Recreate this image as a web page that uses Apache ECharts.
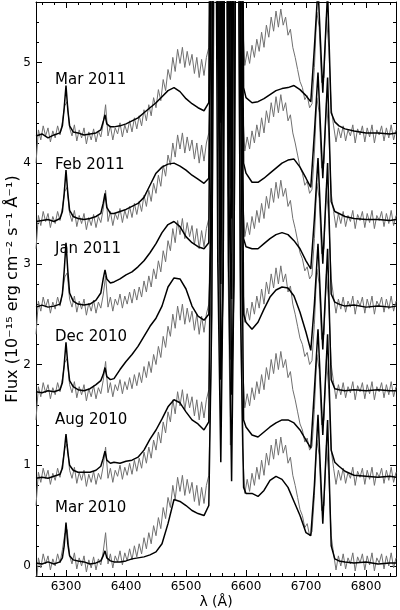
<!DOCTYPE html>
<html>
<head>
<meta charset="utf-8">
<script src="https://cdn.jsdelivr.net/npm/echarts@6/dist/echarts.min.js"></script>
<style>
html, body { margin: 0; padding: 0; background: #fff; }
#chart { width: 400px; height: 610px; }
</style>
</head>
<body>
<div id="chart"></div>
<script>
// epochs, bottom to top
const EPOCHS = ['Mar 2010', 'Aug 2010', 'Dec 2010', 'Jan 2011', 'Feb 2011', 'Mar 2011']
const OFFSETS = [0, 0.85, 1.7, 2.55, 3.4, 4.25]

// wavelength grid of the black spectra (Å)
const BLACK_LAMBDA = [
  6250, 6260, 6270, 6280, 6290, 6294, 6297, 6300, 6303, 6306,
  6312, 6320, 6330, 6340, 6350, 6358, 6362, 6365, 6368, 6374,
  6380, 6390, 6400, 6410, 6420, 6430, 6440, 6450, 6460, 6470,
  6480, 6490, 6500, 6510, 6520, 6530, 6538, 6543, 6548, 6553,
  6558, 6562, 6566, 6571, 6576, 6580, 6585, 6591, 6596, 6600,
  6610, 6620, 6630, 6640, 6650, 6660, 6670, 6680, 6690, 6700,
  6708, 6714, 6720, 6728, 6736, 6742, 6748, 6755, 6765, 6780,
  6800, 6820, 6840, 6850
]

// flux of each epoch before its vertical offset
const MAR2010 = [
  0.03, 0.02, 0.04, 0.02, 0.04, 0.08, 0.2, 0.43, 0.22, 0.1,
  0.06, 0.05, 0.04, 0.02, 0.03, 0.05, 0.1, 0.15, 0.08, 0.05,
  0.04, 0.04, 0.05, 0.07, 0.08, 0.09, 0.11, 0.14, 0.22, 0.42,
  0.66, 0.64, 0.6, 0.55, 0.52, 0.5, 0.6, 2.5, 9, 3,
  1.03, 3, 9, 3, 0.84, 3, 9, 2.5, 0.78, 0.72,
  0.72, 0.69, 0.75, 0.85, 0.89, 0.86, 0.78, 0.64, 0.5, 0.33,
  0.3, 0.8, 1.5, 0.42, 1.45, 0.2, 0.07, 0.05, 0.04, 0.03,
  0.04, 0.02, 0.03, 0.03
]
const AUG2010 = [
  0.02, 0.03, 0.02, 0.04, 0.06, 0.12, 0.28, 0.46, 0.28, 0.15,
  0.1, 0.08, 0.08, 0.08, 0.1, 0.14, 0.22, 0.29, 0.2, 0.17,
  0.18, 0.17, 0.19, 0.2, 0.23, 0.3, 0.41, 0.5, 0.61, 0.73,
  0.8, 0.77, 0.68, 0.6, 0.56, 0.5, 0.58, 4, 9, 5,
  1.0, 2, 9, 5, 0.85, 2, 9, 4, 0.6, 0.53,
  0.45, 0.43, 0.48, 0.53, 0.57, 0.6, 0.6, 0.57, 0.5, 0.4,
  0.32, 0.9, 1.5, 0.45, 1.45, 0.3, 0.18, 0.14, 0.09, 0.05,
  0.04, 0.03, 0.04, 0.03
]
const DEC2010 = [
  0.03, 0.02, 0.04, 0.03, 0.05, 0.12, 0.3, 0.52, 0.3, 0.14,
  0.08, 0.05, 0.04, 0.06, 0.1, 0.14, 0.2, 0.27, 0.18, 0.15,
  0.16, 0.25, 0.33, 0.4, 0.48, 0.58, 0.68, 0.76, 0.88, 1.07,
  1.16, 1.15, 1.05, 0.88, 0.78, 0.74, 0.8, 1.8, 9, 6,
  1.1, 4, 9, 2, 0.95, 5, 9, 6, 0.8, 0.72,
  0.65, 0.72, 0.85, 0.97, 1.04, 1.07, 1.06, 0.98, 0.82, 0.62,
  0.44, 0.9, 1.5, 0.45, 1.45, 0.15, 0.06, 0.05, 0.04, 0.05,
  0.04, 0.05, 0.04, 0.04
]
const JAN2011 = [
  0.02, 0.04, 0.02, 0.03, 0.05, 0.15, 0.38, 0.66, 0.38, 0.16,
  0.08, 0.05, 0.04, 0.05, 0.09, 0.16, 0.3, 0.39, 0.3, 0.26,
  0.27, 0.3, 0.34, 0.37, 0.42, 0.48, 0.56, 0.65, 0.76, 0.84,
  0.87, 0.82, 0.72, 0.66, 0.62, 0.6, 0.66, 5, 9, 2.5,
  1.05, 6, 9, 4, 0.9, 6, 9, 3, 0.7, 0.62,
  0.6, 0.6, 0.65, 0.7, 0.74, 0.76, 0.74, 0.68, 0.6, 0.48,
  0.4, 0.9, 1.5, 0.45, 1.45, 0.15, 0.07, 0.05, 0.03, 0.04,
  0.02, 0.03, 0.02, 0.03
]
const FEB2011 = [
  0.02, 0.03, 0.04, 0.02, 0.05, 0.12, 0.3, 0.53, 0.3, 0.13,
  0.07, 0.05, 0.04, 0.05, 0.07, 0.1, 0.2, 0.3, 0.16, 0.1,
  0.1, 0.12, 0.14, 0.17, 0.2, 0.26, 0.38, 0.5, 0.56, 0.59,
  0.6, 0.57, 0.53, 0.48, 0.44, 0.4, 0.45, 3, 9, 7,
  1.0, 2.5, 9, 6, 0.85, 3.5, 9, 5, 0.6, 0.5,
  0.41, 0.41, 0.45, 0.5, 0.55, 0.6, 0.63, 0.64, 0.56, 0.45,
  0.36, 0.9, 1.5, 0.45, 1.45, 0.22, 0.12, 0.1, 0.07, 0.05,
  0.04, 0.04, 0.03, 0.04
]
const MAR2011 = [
  0.02, 0.04, 0.0, 0.03, 0.05, 0.12, 0.3, 0.52, 0.28, 0.12,
  0.06, 0.05, 0.03, 0.04, 0.05, 0.08, 0.16, 0.23, 0.14, 0.11,
  0.11, 0.12, 0.14, 0.17, 0.2, 0.25, 0.3, 0.35, 0.41, 0.47,
  0.5, 0.46, 0.39, 0.34, 0.3, 0.27, 0.35, 6, 9, 4,
  0.95, 5, 9, 2.5, 0.8, 7, 9, 7, 0.5, 0.4,
  0.35, 0.36, 0.39, 0.43, 0.47, 0.49, 0.5, 0.52, 0.48, 0.42,
  0.36, 0.9, 1.5, 0.45, 1.45, 0.25, 0.16, 0.12, 0.09, 0.07,
  0.05, 0.05, 0.04, 0.05
]
const BLACK_SPECTRA = [MAR2010, AUG2010, DEC2010, JAN2011, FEB2011, MAR2011]

// grey comparison spectrum, repeated under every epoch
const GREY_LAMBDA = [
  6250, 6254, 6258, 6262, 6266, 6270, 6274, 6278, 6282, 6286,
  6290, 6294, 6298, 6302, 6306, 6310, 6314, 6318, 6322, 6326,
  6330, 6334, 6338, 6342, 6346, 6350, 6354, 6358, 6362, 6366,
  6370, 6374, 6378, 6382, 6386, 6390, 6394, 6398, 6402, 6406,
  6410, 6414, 6418, 6422, 6426, 6430, 6434, 6438, 6442, 6446,
  6450, 6454, 6458, 6462, 6466, 6470, 6474, 6478, 6482, 6486,
  6490, 6494, 6498, 6502, 6506, 6510, 6514, 6518, 6522, 6526,
  6530, 6534, 6538, 6542, 6546, 6550, 6554, 6558, 6562, 6566,
  6570, 6574, 6578, 6582, 6586, 6590, 6594, 6598, 6602, 6606,
  6610, 6614, 6618, 6622, 6626, 6630, 6634, 6638, 6642, 6646,
  6650, 6654, 6658, 6662, 6666, 6670, 6674, 6678, 6682, 6686,
  6690, 6694, 6698, 6702, 6706, 6710, 6714, 6718, 6722, 6726,
  6730, 6734, 6738, 6742, 6746, 6750, 6754, 6758, 6762, 6766,
  6770, 6774, 6778, 6782, 6786, 6790, 6794, 6798, 6802, 6806,
  6810, 6814, 6818, 6822, 6826, 6830, 6834, 6838, 6842, 6846,
  6850
]
const GREY_FLUX = [
  -0.25, 0.08, -0.02, 0.12, 0.02, 0.1, -0.04, 0.07, 0.0, 0.12,
  0.03, 0.16, 0.32, 0.36, 0.1, 0.02, 0.13, -0.03, 0.08, 0.0,
  0.1, -0.06, 0.06, -0.02, 0.09, -0.04, 0.07, 0.01, 0.14, 0.33,
  0.02, 0.12, -0.02, 0.1, 0.04, 0.15, 0.01, 0.13, 0.05, 0.17,
  0.06, 0.2, 0.09, 0.22, 0.12, 0.28, 0.17, 0.33, 0.22, 0.4,
  0.3, 0.48, 0.37, 0.58, 0.47, 0.68, 0.58, 0.8, 0.66, 0.88,
  0.74, 0.9, 0.7, 0.86, 0.72, 0.83, 0.64, 0.8, 0.6, 0.78,
  0.62, 0.8, 0.9, 2.0, 5.0, 8.0, 3.0, 1.4, 3.5, 8.0,
  3.0, 1.2, 3.0, 6.0, 8.0, 3.0, 1.2, 0.72, 0.86, 0.74,
  0.92, 0.8, 0.98, 0.86, 1.05, 0.9, 1.12, 1.0, 1.2, 1.06,
  1.26, 1.1, 1.28, 1.12, 1.2, 1.02, 1.08, 0.9, 0.8, 0.68,
  0.56, 0.5, 0.38, 0.42, 0.3, 0.34, 0.7, 1.25, 1.1, 0.55,
  0.6, 1.2, 0.9, 0.3, 0.12, -0.04, 0.1, 0.0, 0.12, -0.03,
  0.08, 0.02, 0.13, -0.05, 0.09, 0.03, 0.12, -0.04, 0.1, 0.01,
  0.13, -0.05, 0.08, 0.03, 0.12, -0.03, 0.1, 0.0, 0.13, -0.02,
  0.08
]

// ticks
const X_MAJOR = [6300, 6400, 6500, 6600, 6700, 6800]
const X_MINOR = [6260, 6280, 6320, 6340, 6360, 6380, 6420, 6440, 6460, 6480,
  6520, 6540, 6560, 6580, 6620, 6640, 6660, 6680, 6720, 6740, 6760, 6780, 6820, 6840]
const Y_MAJOR = [0, 1, 2, 3, 4, 5]
const Y_MINOR = [0.2, 0.4, 0.6, 0.8, 1.2, 1.4, 1.6, 1.8, 2.2, 2.4, 2.6, 2.8,
  3.2, 3.4, 3.6, 3.8, 4.2, 4.4, 4.6, 4.8, 5.2, 5.4]

const FONT = 'DejaVu Sans'
const GRID = { left: 36, right: 4, top: 2, bottom: 34, outerBoundsMode: 'none', containLabel: false }
const X_MIN = 6250, X_MAX = 6850, Y_MIN = -0.1, Y_MAX = 5.6

const chart = echarts.init(document.getElementById('chart'), null, { renderer: 'canvas' })

const tickStyle = { color: '#000', width: 1 }

const xAxisOf = (grid, position, ticks, len, withLine, withLabel) => ({
  type: 'value', gridIndex: grid, position, min: X_MIN, max: X_MAX,
  axisLine: { show: withLine, onZero: false, lineStyle: { color: '#000', width: 1 } },
  splitLine: { show: false },
  axisTick: { show: true, inside: true, length: len, customValues: ticks, lineStyle: tickStyle },
  axisLabel: withLabel
    ? { show: true, customValues: X_MAJOR, formatter: v => String(v), color: '#000', fontFamily: FONT, fontSize: 12, margin: 5 }
    : { show: false }
})

const yAxisOf = (grid, position, ticks, len, withLine, withLabel) => ({
  type: 'value', gridIndex: grid, position, min: Y_MIN, max: Y_MAX,
  axisLine: { show: withLine, onZero: false, lineStyle: { color: '#000', width: 1 } },
  splitLine: { show: false },
  axisTick: { show: true, inside: true, length: len, customValues: ticks, lineStyle: tickStyle },
  axisLabel: withLabel
    ? { show: true, customValues: Y_MAJOR, formatter: v => String(v), color: '#000', fontFamily: FONT, fontSize: 12, margin: 5 }
    : { show: false }
})

const xAxes = [
  xAxisOf(0, 'bottom', X_MAJOR, 6, true, true),
  xAxisOf(0, 'top', X_MAJOR, 6, true, false),
  xAxisOf(1, 'bottom', X_MINOR, 3, false, false),
  xAxisOf(1, 'top', X_MINOR, 3, false, false)
]
Object.assign(xAxes[0], {
  name: 'λ (Å)', nameLocation: 'middle', nameGap: 19, nameMoveOverlap: false,
  nameTextStyle: { color: '#000', fontFamily: FONT, fontSize: 14 }
})

const yAxes = [
  yAxisOf(0, 'left', Y_MAJOR, 6, true, true),
  yAxisOf(0, 'right', Y_MAJOR, 6, true, false),
  yAxisOf(1, 'left', Y_MINOR, 3, false, false),
  yAxisOf(1, 'right', Y_MINOR, 3, false, false)
]
Object.assign(yAxes[0], {
  name: 'Flux (10⁻¹⁵ erg cm⁻² s⁻¹ Å⁻¹)', nameLocation: 'middle', nameGap: 15, nameMoveOverlap: false,
  nameTextStyle: { color: '#000', fontFamily: FONT, fontSize: 16 }
})

const series = []
OFFSETS.forEach((off) => {
  series.push({
    type: 'line', xAxisIndex: 0, yAxisIndex: 0, showSymbol: false, silent: true,
    clip: true, z: 2,
    lineStyle: { color: '#707070', width: 1 },
    data: GREY_LAMBDA.map((l, i) => [l, GREY_FLUX[i] + off])
  })
})
OFFSETS.forEach((off, k) => {
  series.push({
    type: 'line', xAxisIndex: 0, yAxisIndex: 0, showSymbol: false, silent: true,
    clip: true, z: 3,
    lineStyle: { color: '#000', width: 1.5 },
    data: BLACK_LAMBDA.map((l, i) => [l, BLACK_SPECTRA[k][i] + off])
  })
})

// epoch labels sit at the left, just above each spectrum
const LABEL_Y = [510, 422, 339, 251, 167, 82]
const graphic = EPOCHS.map((t, k) => ({
  type: 'text', left: 55, top: LABEL_Y[k] - 9, z: 10,
  style: { text: t, fill: '#000', font: '15px "DejaVu Sans"' }
}))

chart.setOption({
  animation: false,
  backgroundColor: '#fff',
  grid: [
    Object.assign({}, GRID),
    Object.assign({}, GRID)
  ],
  xAxis: xAxes,
  yAxis: yAxes,
  series,
  graphic
})
</script>
</body>
</html>
